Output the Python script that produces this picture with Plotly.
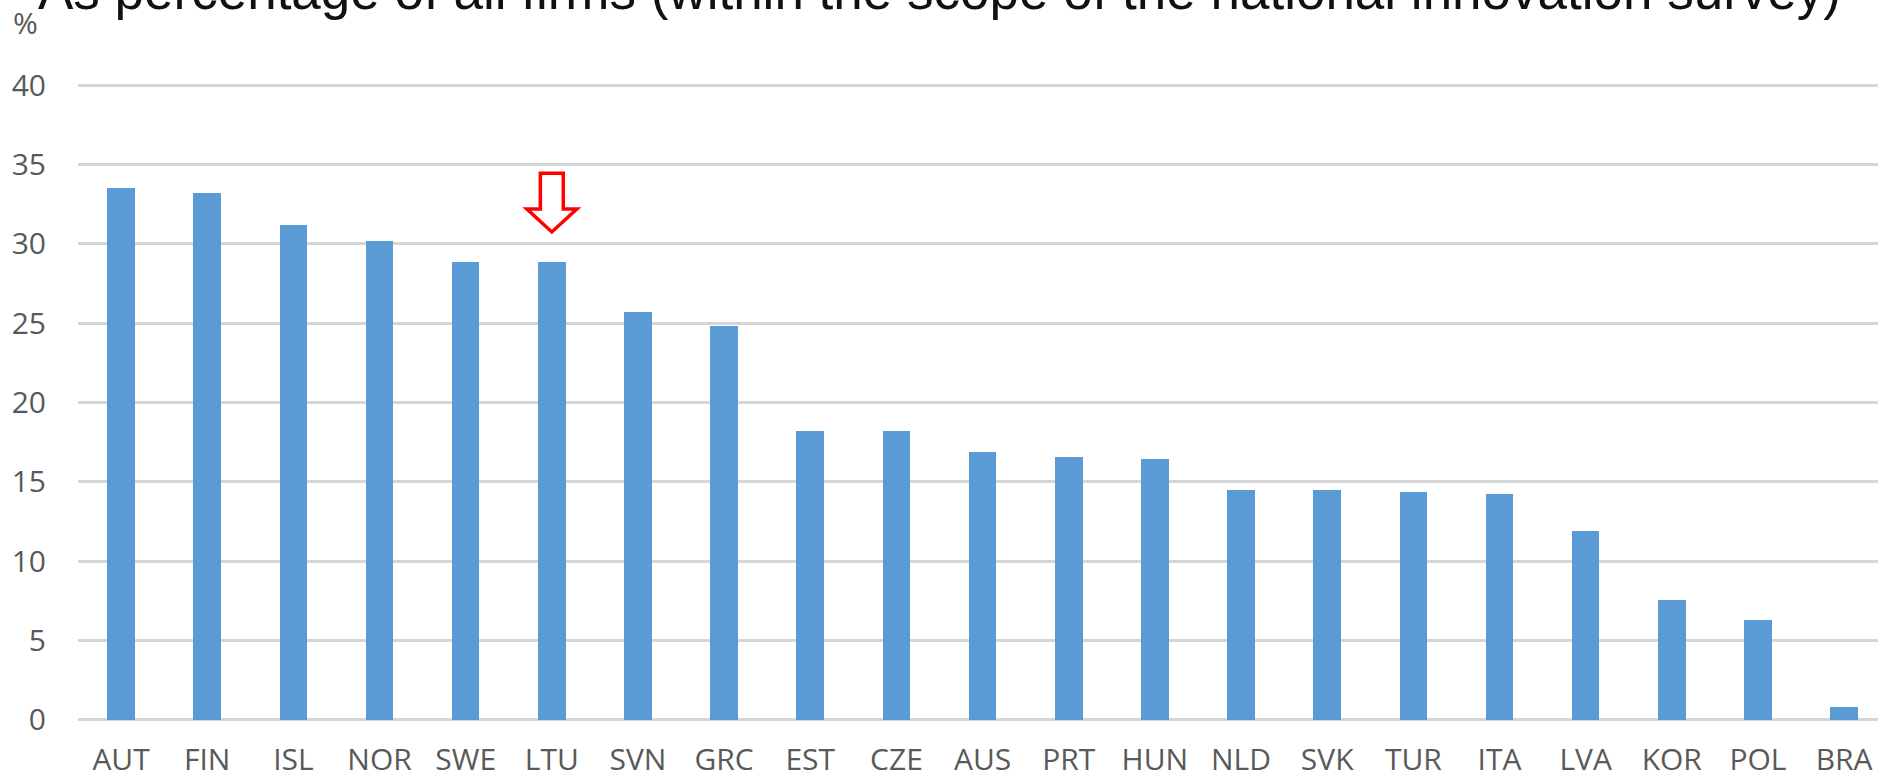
import plotly.graph_objects as go

countries = ["AUT", "FIN", "ISL", "NOR", "SWE", "LTU", "SVN", "GRC", "EST", "CZE", "AUS",
             "PRT", "HUN", "NLD", "SVK", "TUR", "ITA", "LVA", "KOR", "POL", "BRA"]
values = [33.5, 33.2, 31.2, 30.15, 28.85, 28.85, 25.7, 24.85, 18.2, 18.2, 16.9,
          16.55, 16.45, 14.47, 14.47, 14.35, 14.22, 11.87, 7.55, 6.27, 0.78]
y_ticks = [0, 5, 10, 15, 20, 25, 30, 35, 40]
title_text = "As percentage of all firms (within the scope of the national innovation survey)"
unit_text = "%"
highlight = "LTU"

W, H = 1878, 778
PX_PER_UNIT = 15.875
PAD_UNITS = 0.2
pad_px = PAD_UNITS * PX_PER_UNIT
ML, MR = 78, 0
MT = 85 - pad_px
MB = (H - 720) - pad_px
plot_w = W - ML - MR
plot_h = H - MT - MB
cat_px = 86.15
x_end = -0.5 + plot_w / cat_px


def py(px):
    """paper y for a pixel row measured from the top of the figure"""
    return (H - MB - px) / plot_h


xs = list(range(len(countries)))

fig = go.Figure()
fig.add_trace(go.Bar(
    x=xs, y=values, width=0.32,
    marker=dict(color="#5b9bd5", line=dict(width=0)),
    hoverinfo="x+y",
))

# red hollow arrow above highlighted country
hi = countries.index(highlight)
hv = values[hi]
sw, hw = 0.133, 0.29          # shaft / head half-widths (category units)
top, shoulder, tip = hv + 5.6, hv + 3.35, hv + 1.9
path = (f"M {hi-sw},{top} L {hi+sw},{top} L {hi+sw},{shoulder} L {hi+hw},{shoulder} "
        f"L {hi},{tip} L {hi-hw},{shoulder} L {hi-sw},{shoulder} Z")
fig.add_shape(type="path", path=path, xref="x", yref="y",
              line=dict(color="#ff0000", width=3.5), fillcolor="rgba(0,0,0,0)")

fig.add_annotation(text=title_text, xref="paper", yref="paper",
                   x=(36 - ML) / plot_w, y=py(-9.5),
                   xanchor="left", yanchor="middle", showarrow=False,
                   font=dict(family="Liberation Sans, Arial", size=53, color="#111111"))
fig.add_annotation(text=unit_text, xref="paper", yref="paper",
                   x=(11 - ML) / plot_w, y=py(22.5),
                   xanchor="left", yanchor="middle", showarrow=False,
                   font=dict(family="Open Sans", size=30, color="#595959"))

fig.update_layout(
    width=W, height=H,
    margin=dict(l=ML, r=MR, t=MT, b=MB, pad=0, autoexpand=False),
    paper_bgcolor="white", plot_bgcolor="white",
    showlegend=False,
    bargap=0,
    xaxis=dict(
        range=[-0.5, x_end], tickvals=xs, ticktext=countries,
        showgrid=False, zeroline=False, showline=False, ticks="",
        automargin=False,
        tickfont=dict(family="Open Sans", size=30, color="#595959"),
        ticklabelstandoff=16,
    ),
    yaxis=dict(
        range=[-PAD_UNITS, 40 + PAD_UNITS], tickvals=y_ticks,
        showgrid=True, gridcolor="#d6d6d6", gridwidth=2.5,
        zeroline=False, showline=False, ticks="",
        automargin=False,
        tickfont=dict(family="Open Sans", size=30, color="#595959"),
        ticklabelstandoff=31,
    ),
)

fig.write_html(
    "out.html",
    config={"displayModeBar": False, "responsive": False},
    post_script="document.body.style.margin='0';document.body.style.overflow='hidden';",
)
